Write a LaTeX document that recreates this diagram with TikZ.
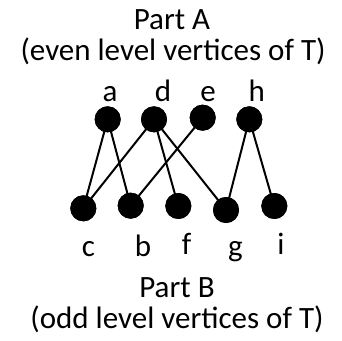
\documentclass[tikz,border=0pt]{standalone}
\usepackage{fontspec}
\setmainfont{Carlito}
\begin{document}
\begin{tikzpicture}[x=1pt,y=-1pt,
  vtx/.style={circle,fill=black,inner sep=0pt,minimum size=26pt},
  edge/.style={line width=2pt},
  lbl/.style={anchor=base,inner sep=0pt,font=\fontsize{31}{35}\selectfont},
  ttl/.style={anchor=base,inner sep=0pt,font=\fontsize{31}{35}\selectfont}]
\useasboundingbox (0,0) rectangle (342,340);
% top vertices
\node[vtx] (a) at (107.7,119.3) {};
\node[vtx] (d) at (154,119.3) {};
\node[vtx] (e) at (202.7,117.7) {};
\node[vtx] (h) at (249.3,119.3) {};
% bottom vertices
\node[vtx] (c) at (83.3,208.3) {};
\node[vtx] (b) at (130.7,205.7) {};
\node[vtx] (f) at (178.3,206) {};
\node[vtx] (g) at (226,210) {};
\node[vtx] (i) at (274.3,206) {};
% edges
\draw[edge] (a.center) -- (c.center);
\draw[edge] (a.center) -- (b.center);
\draw[edge] (d.center) -- (c.center);
\draw[edge] (d.center) -- (f.center);
\draw[edge] (d.center) -- (g.center);
\draw[edge] (e.center) -- (b.center);
\draw[edge] (h.center) -- (g.center);
\draw[edge] (h.center) -- (i.center);
% redraw vertices on top
\foreach \n in {a,d,e,h,c,b,f,g,i} {\fill (\n) circle (13pt);}
% labels
\node[lbl] (la) at (110,101.5) {a};
\node[lbl] (ld) at (163,101.5) {d};
\node[lbl] (le) at (208,101.5) {e};
\node[lbl] (lh) at (256.7,101.5) {h};
\node[lbl] (lc) at (88.5,256.7) {c};
\node[lbl] (lb) at (143,256.7) {b};
\node[lbl] (lf) at (186.7,254) {f};
\node[lbl] (lg) at (235.5,256.7) {g};
\node[lbl] (li) at (281,254) {i};
% titles
\node[ttl] (t1) at (172,29) {Part A};
\node[ttl] (t2) at (173,60) {(even level vertices of T)};
\node[ttl] (t3) at (177,297) {Part B};
\node[ttl] (t4) at (177,328) {(odd level vertices of T)};
\end{tikzpicture}
\end{document}
